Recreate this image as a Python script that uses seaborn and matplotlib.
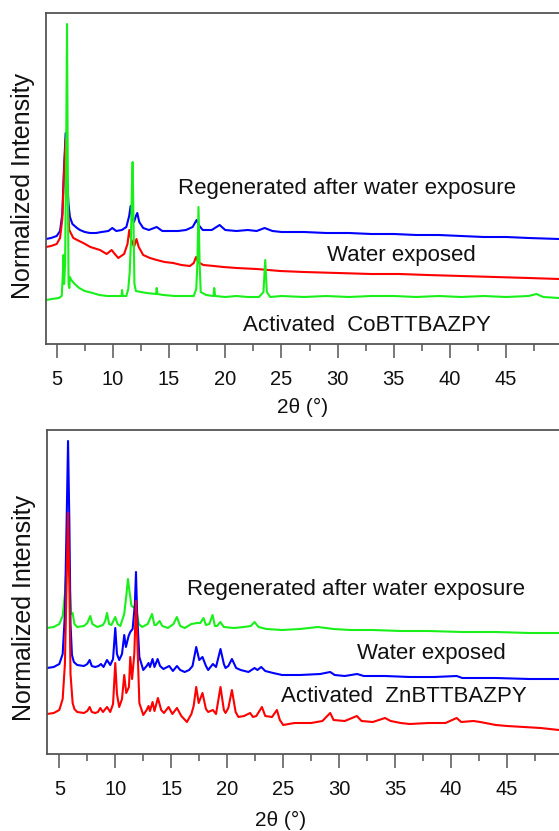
import numpy as np
import pandas as pd
import matplotlib
matplotlib.use("Agg")
import matplotlib.pyplot as plt
from matplotlib.ticker import MultipleLocator, NullLocator
import seaborn as sns

# ---------------- data (2theta in degrees, normalized intensity, arbitrary units) ----------------
co_regenerated = [
    (4.05, 105), (4.5, 106), (5.0, 108), (5.3, 113), (5.5, 130), (5.65, 175), (5.8, 211), (5.92, 170),
    (6.05, 140), (6.18, 127), (6.4, 120), (6.81, 116), (7.07, 114), (7.5, 112), (7.96, 111), (8.5, 111),
    (9.0, 112), (9.6, 113), (9.95, 116), (10.3, 113), (10.8, 114), (11.2, 117), (11.45, 128), (11.58, 138),
    (11.72, 126), (11.88, 122), (12.05, 128), (12.17, 131), (12.35, 122), (12.7, 116), (13.2, 114),
    (13.9, 117), (14.4, 113), (15.0, 113), (15.8, 113), (16.5, 114), (17.1, 117), (17.45, 124), (17.7, 118),
    (18.0, 114), (18.8, 114), (19.5, 119), (20.0, 114), (21.0, 113), (22.0, 114), (22.8, 113), (23.5, 116),
    (24.2, 113), (25, 112), (27, 112), (29, 111), (31, 111), (33, 110), (35, 110), (37, 109), (39, 109),
    (41, 108), (43, 107), (45, 107), (47, 106), (49.7, 105),
]
co_water = [
    (4.05, 97), (4.5, 98), (5.0, 100), (5.3, 106), (5.5, 125), (5.65, 170), (5.8, 205), (5.95, 150),
    (6.12, 114), (6.3, 110), (6.48, 106), (7.0, 103), (7.37, 101), (8.0, 97), (8.85, 94), (9.45, 90),
    (9.89, 94), (10.1, 91), (10.48, 86), (11.0, 90), (11.3, 100), (11.46, 114), (11.62, 105), (11.88, 97),
    (12.1, 105), (12.3, 97), (12.7, 89), (13.3, 86), (13.9, 84), (14.6, 82), (15.37, 81), (16.1, 79),
    (16.86, 78), (17.2, 81), (17.4, 87), (17.6, 82), (18.04, 79), (19.0, 78), (19.82, 77), (21.0, 76),
    (22.79, 75), (24.87, 73), (27, 72), (30, 71), (33, 70), (35.5, 70), (38, 69), (41, 68), (44, 67),
    (47, 66), (49.7, 65),
]
co_activated = [
    (4.05, 44), (4.6, 45), (5.2, 46), (5.45, 48), (5.55, 70), (5.6, 89), (5.66, 60), (5.75, 80),
    (5.85, 200), (5.92, 320), (6.0, 150), (6.06, 60), (6.12, 56), (6.18, 67), (6.3, 64), (6.6, 60),
    (7.0, 56), (7.5, 53), (8.2, 51), (8.8, 49), (9.5, 48), (10.2, 48), (10.78, 48), (10.82, 54),
    (10.88, 48), (11.2, 48), (11.37, 55), (11.5, 72), (11.6, 100), (11.7, 160), (11.76, 182), (11.84, 120),
    (11.92, 60), (12.05, 53), (12.5, 52), (13.0, 51), (13.85, 50), (13.9, 56), (13.97, 50), (14.5, 49),
    (15.5, 48), (16.5, 48), (17.2, 48), (17.42, 55), (17.52, 80), (17.62, 137), (17.72, 80), (17.82, 52),
    (18.3, 49), (18.95, 48), (19.02, 56), (19.1, 48), (20, 47), (21, 48), (22, 47), (23.0, 47),
    (23.4, 52), (23.56, 84), (23.7, 52), (24, 47), (25, 48), (27, 47), (29, 48), (31, 47), (33, 48),
    (35, 48), (37, 47), (39, 48), (41, 47), (43, 48), (45, 47), (47.0, 48), (47.7, 50), (48.3, 47),
    (49.7, 46),
]

zn_regenerated = [
    (3.9, 126), (4.5, 127), (5.0, 130), (5.3, 138), (5.5, 160), (5.65, 190), (5.78, 205), (5.92, 170),
    (6.05, 140), (6.19, 141), (6.35, 130), (6.6, 127), (7.2, 128), (7.5, 131), (7.77, 138), (7.95, 130),
    (8.4, 127), (8.9, 129), (9.1, 133), (9.26, 141), (9.45, 130), (9.65, 129), (10.0, 137), (10.2, 130),
    (10.45, 128), (10.8, 140), (11.0, 160), (11.13, 175), (11.3, 160), (11.45, 148), (11.75, 146),
    (11.95, 140), (12.1, 130), (12.4, 127), (12.9, 130), (13.28, 140), (13.5, 129), (13.65, 129),
    (13.96, 133), (14.2, 128), (14.7, 126), (15.2, 130), (15.5, 137), (15.8, 128), (16.2, 126),
    (16.8, 130), (17.3, 131), (17.6, 131), (17.88, 136), (18.1, 129), (18.4, 130), (18.69, 139),
    (18.9, 128), (19.1, 128), (19.38, 132), (19.7, 127), (20.6, 126), (21.5, 127), (22.1, 128),
    (22.44, 132), (22.8, 127), (23.5, 125), (24.9, 124), (26.5, 125), (28.1, 127), (29.5, 125),
    (31, 124), (33, 124), (35.5, 123), (38, 123), (41, 122), (44, 122), (47, 121), (49.64, 121),
]
zn_water = [
    (3.9, 86), (4.5, 87), (5.0, 90), (5.3, 100), (5.5, 140), (5.65, 230), (5.78, 313), (5.9, 230),
    (6.0, 130), (6.13, 99), (6.3, 92), (6.6, 89), (7.2, 88), (7.5, 90), (7.71, 94), (7.9, 88), (8.2, 87),
    (8.5, 88), (8.72, 90), (8.95, 87), (9.26, 94), (9.55, 89), (9.8, 95), (10.0, 126), (10.15, 100),
    (10.35, 94), (10.6, 100), (10.8, 119), (10.95, 107), (11.19, 118), (11.34, 122), (11.55, 125),
    (11.75, 150), (11.85, 182), (11.95, 140), (12.15, 97), (12.5, 84), (12.8, 88), (12.97, 91),
    (13.1, 87), (13.33, 95), (13.5, 87), (13.78, 95), (14.0, 88), (14.3, 85), (14.82, 88), (15.15, 83),
    (15.51, 88), (15.8, 84), (16.2, 82), (16.6, 84), (16.9, 88), (17.23, 107), (17.5, 94), (17.79, 97),
    (18.1, 88), (18.3, 84), (18.72, 90), (19.0, 87), (19.4, 105), (19.7, 90), (19.85, 86), (20.1, 88),
    (20.42, 95), (20.8, 86), (21.2, 84), (21.9, 82), (22.44, 86), (22.7, 84), (23.04, 87), (23.4, 83),
    (24.1, 81), (24.9, 79), (26.5, 79), (28.3, 80), (29.2, 82), (29.6, 79), (30.5, 78), (31.6, 80),
    (32.2, 78), (34.1, 78), (36.3, 77), (38.5, 77), (40.5, 78), (41, 76), (44, 76), (47, 75), (49.64, 75),
]
zn_activated = [
    (3.9, 40), (4.5, 41), (5.0, 44), (5.3, 55), (5.5, 90), (5.65, 170), (5.78, 241), (5.9, 170),
    (6.0, 80), (6.19, 51), (6.35, 45), (6.6, 42), (7.2, 41), (7.5, 43), (7.71, 47), (7.9, 42), (8.2, 41),
    (8.45, 42), (8.66, 46), (8.9, 42), (9.26, 47), (9.55, 42), (9.8, 50), (10.0, 91), (10.15, 60),
    (10.35, 47), (10.6, 55), (10.8, 79), (10.98, 61), (11.22, 67), (11.34, 97), (11.5, 75), (11.7, 100),
    (11.85, 153), (11.98, 110), (12.15, 51), (12.5, 39), (12.8, 44), (12.97, 48), (13.1, 43), (13.33, 52),
    (13.5, 43), (13.81, 56), (14.1, 44), (14.35, 41), (14.76, 47), (15.1, 40), (15.51, 46), (15.9, 38),
    (16.4, 32), (16.8, 40), (17.0, 48), (17.23, 67), (17.45, 51), (17.79, 61), (18.1, 45), (18.3, 42),
    (18.72, 44), (19.0, 40), (19.4, 67), (19.7, 44), (19.85, 41), (20.1, 46), (20.42, 64), (20.75, 42),
    (21.0, 37), (21.5, 38), (22.05, 41), (22.3, 37), (22.6, 38), (23.1, 47), (23.4, 38), (24.0, 37),
    (24.44, 44), (24.7, 34), (25.0, 29), (26.0, 31), (27.5, 31), (28.5, 33), (29.2, 41), (29.5, 34),
    (30.5, 33), (31.58, 38), (32.0, 33), (33.0, 32), (34.1, 36), (34.6, 33), (35.5, 31), (36.3, 30),
    (38, 31), (39.5, 31), (40.5, 36), (40.9, 32), (42.0, 33), (42.6, 32), (44, 29), (45, 28), (46.5, 27),
    (48, 26), (49.64, 24),
]

co_labels = ["Regenerated after water exposure", "Water exposed", "Activated  CoBTTBAZPY"]
zn_labels = ["Regenerated after water exposure", "Water exposed", "Activated  ZnBTTBAZPY"]
x_ticks = [5, 10, 15, 20, 25, 30, 35, 40, 45]
x_title = "2\u03b8 (\u00b0)"
y_title = "Normalized Intensity"

BLUE, RED, GREEN = "#0000ff", "#ff0000", "#19f019"


def frame(series):
    rows = []
    for name, pts in series:
        for i, (x, y) in enumerate(pts):
            rows.append({"sample": name, "order": i, "two_theta": x, "intensity": y})
    return pd.DataFrame(rows)


sns.set_style("white")
plt.rcParams["font.family"] = ["Liberation Sans", "DejaVu Sans"]

fig = plt.figure(figsize=(5.59, 8.31), dpi=100)
ax1 = fig.add_axes([46 / 559, 1 - 344 / 831, 513 / 559, 331 / 831])
ax2 = fig.add_axes([47 / 559, 1 - 754 / 831, 512 / 559, 324 / 831])

df_co = frame([("reg", co_regenerated), ("wat", co_water), ("act", co_activated)])
df_zn = frame([("reg", zn_regenerated), ("wat", zn_water), ("act", zn_activated)])

sns.lineplot(data=df_co, x="two_theta", y="intensity", hue="sample", hue_order=["reg", "wat", "act"],
             palette={"reg": BLUE, "wat": RED, "act": GREEN}, estimator=None, sort=False,
             units="sample", legend=False, lw=1.5, ax=ax1)
sns.lineplot(data=df_zn, x="two_theta", y="intensity", hue="sample", hue_order=["reg", "wat", "act"],
             palette={"reg": GREEN, "wat": BLUE, "act": RED}, estimator=None, sort=False,
             units="sample", legend=False, lw=1.5, ax=ax2)

ax1.set_xlim(4.05, 49.7)
ax1.set_ylim(0, 331)
ax2.set_xlim(3.9, 49.64)
ax2.set_ylim(0, 324)

for ax in (ax1, ax2):
    ax.set_xticks(x_ticks)
    ax.xaxis.set_minor_locator(MultipleLocator(2.5))
    ax.yaxis.set_major_locator(NullLocator())
    ax.tick_params(axis="x", which="major", direction="out", length=10, width=1.1,
                   color="#555555", labelsize=14.5, pad=8.5, bottom=True, labelcolor="#111111")
    ax.tick_params(axis="x", which="minor", direction="out", length=5, width=1.1,
                   color="#555555", bottom=True)
    for side in ("left", "top", "bottom"):
        ax.spines[side].set_color("#555555")
        ax.spines[side].set_linewidth(1.3)
    ax.spines["right"].set_visible(False)
    ax.set_xlabel(x_title, fontsize=15, color="#111111")
    ax.set_ylabel(y_title, fontsize=18, color="#111111")

ax1.xaxis.set_label_coords(0.501, -0.162)
ax2.xaxis.set_label_coords(0.457, -0.177)
ax1.yaxis.set_label_coords(-0.022, 0.477)
ax2.yaxis.set_label_coords(-0.022, 0.45)

txt = dict(fontsize=16, ha="left", va="center", color="#111111")
ax1.text(15.79, 156, co_labels[0], **txt)
ax1.text(29.05, 89, co_labels[1], **txt)
ax1.text(21.57, 19, co_labels[2], **txt)
ax2.text(16.43, 164, zn_labels[0], **txt)
ax2.text(31.6, 101, zn_labels[1], **txt)
ax2.text(24.8, 57, zn_labels[2], **txt)

fig.savefig("out.png", dpi=100, facecolor="white")
